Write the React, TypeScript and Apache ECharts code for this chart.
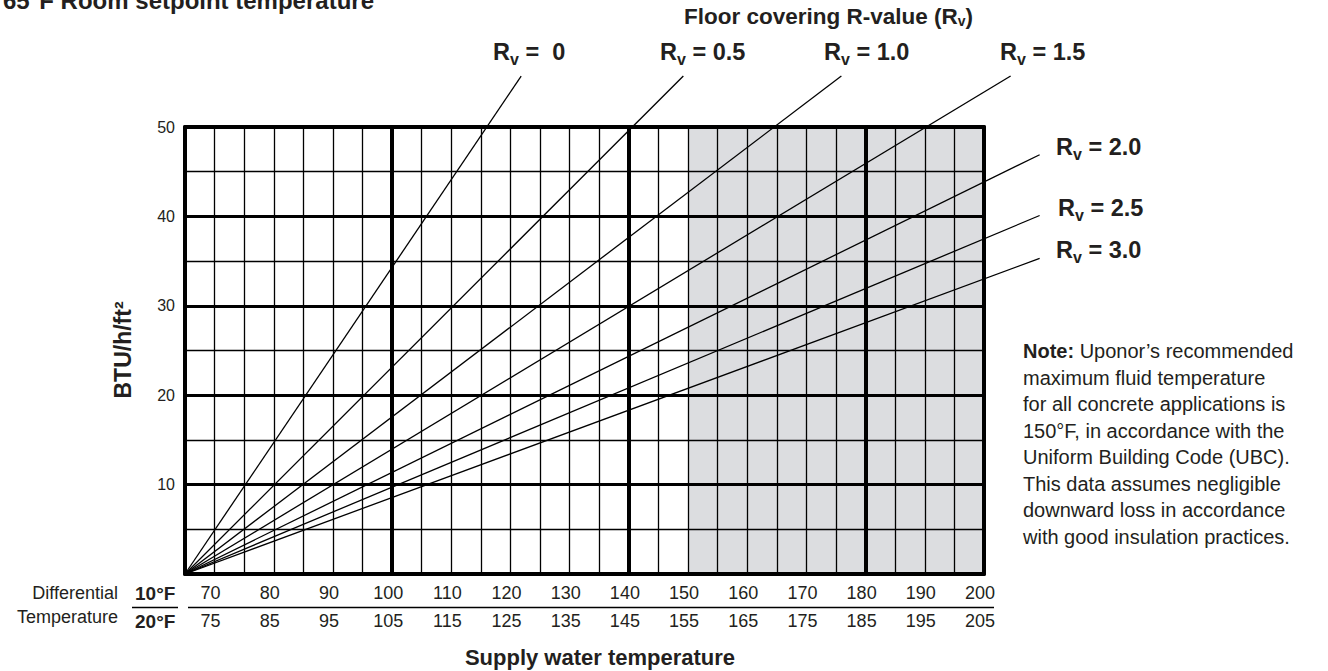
import React, { useEffect, useRef } from "react";
import * as echarts from "echarts";

// ---------- data ----------
const roomSetpoint = 65; // °F, lines start at zero output here
const supplyTemps10 = [70, 80, 90, 100, 110, 120, 130, 140, 150, 160, 170, 180, 190, 200];
const supplyTemps20 = [75, 85, 95, 105, 115, 125, 135, 145, 155, 165, 175, 185, 195, 205];
const btuTicks = [10, 20, 30, 40, 50];
const rvValues = ["0", "0.5", "1.0", "1.5", "2.0", "2.5", "3.0"];
const rvEndTemps = [121.8, 149.2, 175.9, 204.5, 209.4, 209.4, 209.4];
const rvEndBtus = [55.7, 55.7, 55.7, 55.7, 46.9, 40.1, 35.3];
const heavyTemps = [100, 140, 180];
const maxRecommendedTemp = 150;
const axisMaxTemp = 200;
const axisMaxBtu = 50;
const noteLines = [
  "{b|Note:} Uponor\u2019s recommended",
  "maximum fluid temperature",
  "for all concrete applications is",
  "150\u00b0F, in accordance with the",
  "Uniform Building Code (UBC).",
  "This data assumes negligible",
  "downward loss in accordance",
  "with good insulation practices.",
];

// ---------- layout / style ----------
const FONT = "'Liberation Sans', Arial, Helvetica, sans-serif";
const TEXT = "#231f20";
const SHADE = "#dcdde0";
const rvLabelPos = [
  [493, 51.7],
  [660, 51.7],
  [824, 51.7],
  [1000, 51.7],
  [1056, 147],
  [1058, 207.5],
  [1056, 250],
];

let measureCtx: CanvasRenderingContext2D | null = null;
function tw(text: string, font: string) {
  if (!measureCtx) measureCtx = document.createElement("canvas").getContext("2d");
  measureCtx!.font = font;
  return measureCtx!.measureText(text).width;
}

type Part = { t: string; sub?: boolean };
function subText(x: number, y: number, parts: Part[], size: number, subSize: number, subDy: number) {
  const out: any[] = [];
  let cx = x;
  for (const p of parts) {
    const font = `bold ${p.sub ? subSize : size}px ${FONT}`;
    out.push({
      type: "text",
      x: cx,
      y: p.sub ? y + subDy : y,
      silent: true,
      style: {
        text: p.t,
        font,
        fill: TEXT,
        align: "left",
        verticalAlign: "middle",
        textAlign: "left",
        textVerticalAlign: "middle",
      },
    });
    cx += tw(p.t, font);
  }
  return out;
}

function plainText(x: number, y: number, text: string, font: string, align = "left", extra: any = {}) {
  return {
    type: "text",
    x,
    y,
    silent: true,
    ...extra,
    style: {
      text,
      font,
      fill: TEXT,
      align,
      verticalAlign: "middle",
      textAlign: align,
      textVerticalAlign: "middle",
    },
  };
}

export default function App() {
  const ref = useRef<HTMLDivElement>(null);

  useEffect(() => {
    document.body.style.margin = "0";
    const chart = echarts.init(ref.current!, null, { renderer: "svg" });

    const label10 = (v: number) => {
      const i = supplyTemps10.indexOf(Math.round(v));
      return i >= 0 ? String(supplyTemps10[i]) : "";
    };
    const label20 = (v: number) => {
      const i = supplyTemps10.indexOf(Math.round(v));
      return i >= 0 ? String(supplyTemps20[i]) : "";
    };
    const labelY = (v: number) => (btuTicks.indexOf(Math.round(v)) >= 0 ? String(Math.round(v)) : "");

    const graphics: any[] = [];
    graphics.push({
      type: "text",
      x: 3,
      y: 12,
      silent: true,
      style: {
        text: "65\u00b0F Room setpoint temperature",
        font: `bold 24px ${FONT}`,
        fill: TEXT,
        align: "left",
        verticalAlign: "bottom",
        textAlign: "left",
        textVerticalAlign: "bottom",
      },
    });
    graphics.push(
      ...subText(684, 16.3, [{ t: "Floor covering R-value (R" }, { t: "v", sub: true }, { t: ")" }], 22.5, 14, 5)
    );
    rvValues.forEach((rv, i) => {
      const [x, y] = rvLabelPos[i];
      const rest = rv === "0" ? " =\u00a0 0" : ` = ${rv}`;
      graphics.push(...subText(x, y, [{ t: "R" }, { t: "v", sub: true }, { t: rest }], 23.5, 16, 7.5));
    });
    graphics.push(
      plainText(123, 350, "BTU/h/ft\u00b2", `bold 23px ${FONT}`, "center", { rotation: Math.PI / 2 })
    );
    graphics.push(plainText(600, 657, "Supply water temperature", `bold 22px ${FONT}`, "center"));
    graphics.push(plainText(118, 593, "Differential", `18px ${FONT}`, "right"));
    graphics.push(plainText(118, 617, "Temperature", `18px ${FONT}`, "right"));
    graphics.push(plainText(135, 593, "10\u00b0F", `bold 19px ${FONT}`, "left"));
    graphics.push(plainText(135, 621, "20\u00b0F", `bold 19px ${FONT}`, "left"));
    graphics.push({
      type: "line",
      silent: true,
      shape: { x1: 132, y1: 607.5, x2: 178, y2: 607.5 },
      style: { stroke: "#000", lineWidth: 1.6 },
    });
    graphics.push({
      type: "line",
      silent: true,
      shape: { x1: 188, y1: 607.5, x2: 994, y2: 607.5 },
      style: { stroke: "#000", lineWidth: 1.6 },
    });
    graphics.push({
      type: "text",
      x: 1023,
      y: 338,
      silent: true,
      style: {
        text: noteLines.join("\n"),
        font: `20px ${FONT}`,
        fontSize: 20,
        fontFamily: FONT,
        lineHeight: 26.5,
        fill: TEXT,
        align: "left",
        verticalAlign: "top",
        textAlign: "left",
        textVerticalAlign: "top",
        rich: {
          b: { fontWeight: "bold", fontSize: 20, fontFamily: FONT, lineHeight: 26.5, fill: TEXT },
        },
      },
    });

    const baseAxisLabel = { fontFamily: FONT, color: TEXT };

    const option: any = {
      animation: false,
      grid: { left: 185, right: 344, top: 127, bottom: 97, containLabel: false },
      xAxis: [
        {
          type: "value",
          min: roomSetpoint,
          max: axisMaxTemp,
          interval: 5,
          position: "bottom",
          z: 3,
          axisLine: { show: true, onZero: false, lineStyle: { color: "#000", width: 4 } },
          axisTick: { show: false },
          splitLine: { show: true, lineStyle: { color: "#000", width: 1.3 } },
          axisLabel: {
            ...baseAxisLabel,
            fontSize: 18,
            margin: 10,
            padding: [0, 8, 0, 0],
            showMinLabel: true,
            showMaxLabel: true,
            hideOverlap: false,
            formatter: label10,
          },
        },
        {
          type: "value",
          min: roomSetpoint,
          max: axisMaxTemp,
          interval: 5,
          position: "bottom",
          offset: 28,
          z: 3,
          axisLine: { show: false },
          axisTick: { show: false },
          splitLine: { show: false },
          axisLabel: {
            ...baseAxisLabel,
            fontSize: 18,
            margin: 10,
            padding: [0, 8, 0, 0],
            showMinLabel: true,
            showMaxLabel: true,
            hideOverlap: false,
            formatter: label20,
          },
        },
        {
          type: "value",
          min: roomSetpoint,
          max: axisMaxTemp,
          interval: 5,
          position: "top",
          z: 3,
          axisLine: { show: true, onZero: false, lineStyle: { color: "#000", width: 4 } },
          axisTick: { show: false },
          splitLine: { show: false },
          axisLabel: { show: false },
        },
      ],
      yAxis: [
        {
          type: "value",
          min: 0,
          max: axisMaxBtu,
          interval: 5,
          position: "left",
          z: 3,
          axisLine: { show: true, onZero: false, lineStyle: { color: "#000", width: 4 } },
          axisTick: { show: false },
          splitLine: { show: true, lineStyle: { color: "#000", width: 1.3 } },
          axisLabel: { ...baseAxisLabel, fontSize: 16, margin: 10, formatter: labelY },
        },
        {
          type: "value",
          min: 0,
          max: axisMaxBtu,
          interval: 10,
          position: "left",
          z: 3,
          axisLine: { show: false },
          axisTick: { show: false },
          axisLabel: { show: false },
          splitLine: { show: true, lineStyle: { color: "#000", width: 3 } },
        },
        {
          type: "value",
          min: 0,
          max: axisMaxBtu,
          interval: 5,
          position: "right",
          z: 3,
          axisLine: { show: true, onZero: false, lineStyle: { color: "#000", width: 4 } },
          axisTick: { show: false },
          axisLabel: { show: false },
          splitLine: { show: false },
        },
      ],
      series: [
        {
          type: "line",
          name: "shade",
          xAxisIndex: 0,
          yAxisIndex: 0,
          z: 1,
          silent: true,
          showSymbol: false,
          symbol: "none",
          lineStyle: { opacity: 0 },
          data: [[roomSetpoint, 0]],
          markArea: {
            silent: true,
            itemStyle: { color: SHADE },
            data: [[{ xAxis: maxRecommendedTemp, yAxis: 0 }, { xAxis: axisMaxTemp, yAxis: axisMaxBtu }]],
          },
        },
        {
          type: "line",
          name: "heavy",
          xAxisIndex: 0,
          yAxisIndex: 0,
          z: 2,
          silent: true,
          showSymbol: false,
          symbol: "none",
          lineStyle: { opacity: 0 },
          data: [[roomSetpoint, 0]],
          markLine: {
            silent: true,
            symbol: ["none", "none"],
            label: { show: false },
            lineStyle: { color: "#000", width: 4, type: "solid" },
            data: heavyTemps.map((t) => ({ xAxis: t })),
          },
        },
        {
          type: "custom",
          name: "Rv lines",
          xAxisIndex: 0,
          yAxisIndex: 0,
          z: 5,
          silent: true,
          clip: false,
          encode: { x: [0, 2], y: [1, 3] },
          data: rvValues.map((rv, i) => [roomSetpoint, 0, rvEndTemps[i], rvEndBtus[i]]),
          renderItem: (params: any, api: any) => {
            const p0 = api.coord([api.value(0), api.value(1)]);
            const p1 = api.coord([api.value(2), api.value(3)]);
            return {
              type: "line",
              shape: { x1: p0[0], y1: p0[1], x2: p1[0], y2: p1[1] },
              style: { stroke: "#000", lineWidth: 1.3 },
            };
          },
        },
      ],
      graphic: graphics,
    };

    chart.setOption(option);
    return () => chart.dispose();
  }, []);

  return <div ref={ref} style={{ width: 1328, height: 671 }} />;
}
